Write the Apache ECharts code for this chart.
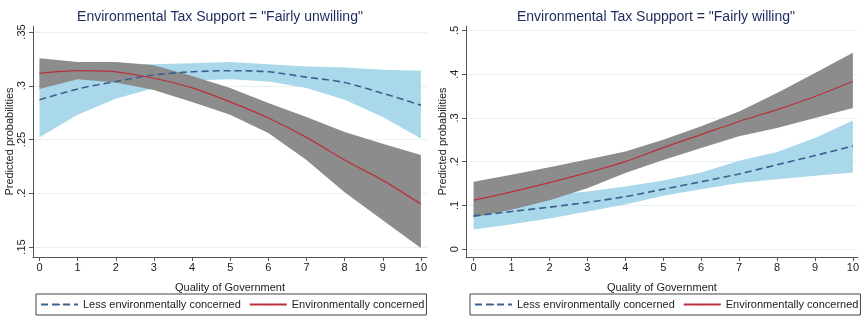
<!DOCTYPE html>
<html>
<head>
<meta charset="utf-8">
<script src="https://cdn.jsdelivr.net/npm/echarts@6/dist/echarts.min.js"></script>
<style>
  html, body { margin: 0; padding: 0; background: #fff; }
  #chart { width: 862px; height: 321px; }
</style>
</head>
<body>
<div id="chart"></div>
<script>
// quality of government, 0..10
var qog = [0, 1, 2, 3, 4, 5, 6, 7, 8, 9, 10];

// panel 1: "Fairly unwilling"
var unwLessMean  = [0.287, 0.297, 0.304, 0.310, 0.313, 0.314, 0.313, 0.308, 0.303, 0.293, 0.282];
var unwLessLo    = [0.252, 0.273, 0.288, 0.298, 0.305, 0.306, 0.304, 0.298, 0.287, 0.271, 0.251];
var unwLessHi    = [0.321, 0.321, 0.321, 0.320, 0.321, 0.322, 0.320, 0.318, 0.317, 0.315, 0.314];
var unwConcMean  = [0.3115, 0.314, 0.313, 0.307, 0.298, 0.285, 0.270, 0.252, 0.231, 0.212, 0.190];
var unwConcLo    = [0.297, 0.306, 0.303, 0.296, 0.285, 0.273, 0.256, 0.231, 0.201, 0.175, 0.149];
var unwConcHi    = [0.3255, 0.322, 0.322, 0.319, 0.309, 0.298, 0.284, 0.271, 0.257, 0.246, 0.2355];

// panel 2: "Fairly willing"
var wilLessMean  = [0.076, 0.086, 0.096, 0.107, 0.120, 0.137, 0.154, 0.172, 0.193, 0.214, 0.236];
var wilLessLo    = [0.045, 0.057, 0.070, 0.086, 0.102, 0.122, 0.137, 0.151, 0.160, 0.168, 0.175];
var wilLessHi    = [0.105, 0.113, 0.124, 0.132, 0.143, 0.157, 0.175, 0.202, 0.222, 0.254, 0.294];
var wilConcMean  = [0.112, 0.131, 0.152, 0.175, 0.200, 0.232, 0.262, 0.292, 0.319, 0.349, 0.384];
var wilConcLo    = [0.073, 0.090, 0.112, 0.139, 0.174, 0.204, 0.231, 0.258, 0.277, 0.300, 0.323];
var wilConcHi    = [0.154, 0.170, 0.187, 0.205, 0.223, 0.250, 0.281, 0.315, 0.357, 0.403, 0.449];

var xTicks = [0, 1, 2, 3, 4, 5, 6, 7, 8, 9, 10];
var yTicksUnw = [0.15, 0.2, 0.25, 0.3, 0.35];
var yTicksWil = [0, 0.1, 0.2, 0.3, 0.4, 0.5];

var titles = ['Environmental Tax Support = "Fairly unwilling"', 'Environmental Tax Suppport = "Fairly willing"'];
var lessName = 'Less environmentally concerned';
var concName = 'Environmentally concerned';

var fontFam = 'Liberation Sans, Arial, sans-serif';
var blueBand = '#a9d8ea';
var grayBand = '#8c8c8c';
var blueLine = '#3d5f8f';
var redLine = '#b8303a';

function fmtTick(v) {
  if (v === 0) return '0';
  return String(v).replace(/^0/, '');
}

function pairs(ys) {
  return qog.map(function (x, i) { return [x, ys[i]]; });
}

// polygon band drawn through the axis scales
function band(idx, lo, hi, color, z) {
  return {
    type: 'custom',
    xAxisIndex: idx, yAxisIndex: idx,
    z: z, silent: true,
    data: qog.map(function (x, i) { return [x, lo[i], hi[i]]; }),
    renderItem: function (params, api) {
      if (params.dataIndex !== 0) return null;
      var pts = [];
      for (var i = 0; i < qog.length; i++) pts.push(api.coord([qog[i], hi[i]]));
      for (var j = qog.length - 1; j >= 0; j--) pts.push(api.coord([qog[j], lo[j]]));
      return { type: 'polygon', shape: { points: pts }, style: { fill: color } };
    }
  };
}

function lineSeries(idx, name, ys, color, dashed, z) {
  return {
    type: 'line', name: name,
    xAxisIndex: idx, yAxisIndex: idx,
    data: pairs(ys), symbol: 'none', smooth: 0.3, z: z,
    lineStyle: { color: color, width: dashed ? 1.6 : 1.2, type: dashed ? [7, 4] : 'solid' },
    itemStyle: { color: color }
  };
}

function xAxisCfg(idx, min, max) {
  return {
    type: 'value', gridIndex: idx, min: min, max: max,
    name: 'Quality of Government', nameLocation: 'middle', nameGap: 25,
    nameTextStyle: { fontFamily: fontFam, fontSize: 11, color: '#222' },
    axisLine: { show: true, onZero: false, lineStyle: { color: '#555', width: 1 } },
    axisTick: { show: true, length: 4, customValues: xTicks, lineStyle: { color: '#555' } },
    axisLabel: { customValues: xTicks, fontFamily: fontFam, fontSize: 11, color: '#222', margin: 5 },
    splitLine: { show: false }
  };
}

function yAxisCfg(idx, min, max, ticks) {
  return {
    type: 'value', gridIndex: idx, min: min, max: max,
    name: 'Predicted probabilities', nameLocation: 'middle', nameGap: 18,
    nameTextStyle: { fontFamily: fontFam, fontSize: 11, color: '#222' },
    axisLine: { show: true, onZero: false, lineStyle: { color: '#555', width: 1 } },
    axisTick: { show: true, length: 4, customValues: ticks, lineStyle: { color: '#555' } },
    axisLabel: { customValues: ticks, rotate: 90, formatter: fmtTick, fontFamily: fontFam, fontSize: 11, color: '#222', margin: 6 },
    splitLine: { show: true, lineStyle: { color: '#e6f1f2', width: 1 } }
  };
}

function legendCfg(left) {
  return {
    left: left, top: 294, width: 440,
    orient: 'horizontal',
    data: [lessName, concName],
    itemWidth: 37, itemHeight: 2, itemGap: 8,
    borderColor: '#444', borderWidth: 1, borderRadius: 0,
    padding: [5, 2, 5, 4],
    textStyle: { fontFamily: fontFam, fontSize: 11, color: '#222' },
    selectedMode: false
  };
}

var option = {
  backgroundColor: '#fff',
  animation: false,
  title: [
    { text: titles[0], left: 215, top: 5, textAlign: 'center',
      textStyle: { fontFamily: fontFam, fontSize: 14, fontWeight: 'normal', color: '#1f2a5a' } },
    { text: titles[1], left: 651, top: 5, textAlign: 'center',
      textStyle: { fontFamily: fontFam, fontSize: 14, fontWeight: 'normal', color: '#1f2a5a' } }
  ],
  legend: [legendCfg(36), legendCfg(470)],
  grid: [
    { left: 33, right: 435, top: 26, bottom: 64 },
    { left: 466, right: 1, top: 26, bottom: 64 }
  ],
  xAxis: [xAxisCfg(0, -0.17, 10.16), xAxisCfg(1, -0.2, 10.13)],
  yAxis: [yAxisCfg(0, 0.1407, 0.3556, yTicksUnw), yAxisCfg(1, -0.018, 0.5103, yTicksWil)],
  series: [
    band(0, unwLessLo, unwLessHi, blueBand, 1),
    band(0, unwConcLo, unwConcHi, grayBand, 2),
    lineSeries(0, lessName, unwLessMean, blueLine, true, 3),
    lineSeries(0, concName, unwConcMean, redLine, false, 4),
    band(1, wilLessLo, wilLessHi, blueBand, 1),
    band(1, wilConcLo, wilConcHi, grayBand, 2),
    lineSeries(1, lessName, wilLessMean, blueLine, true, 3),
    lineSeries(1, concName, wilConcMean, redLine, false, 4)
  ]
};

var myChart = echarts.init(document.getElementById('chart'), null, { renderer: 'canvas' });
myChart.setOption(option);
</script>
</body>
</html>
